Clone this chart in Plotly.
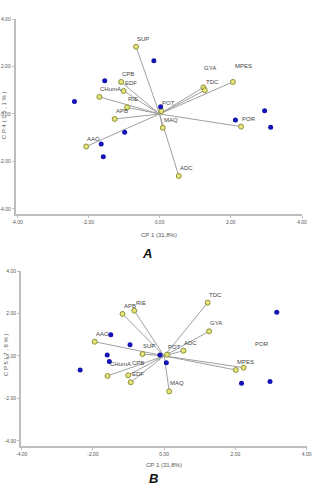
import plotly.graph_objects as go

# ---------------- data ----------------
var_names = ["SUP", "CPB", "EDF", "CHumA", "RIE", "APB", "POT", "MAQ",
             "GYA", "TDC", "MPES", "POR", "AAO", "ADC"]

# Panel A : CP1 vs CP4
a_var_x = [-0.66, -1.08, -1.01, -1.69, -0.91, -1.26, 0.05, 0.09,
           1.23, 1.27, 2.06, 2.29, -2.06, 0.54]
a_var_y = [2.83, 1.35, 0.97, 0.72, 0.28, -0.21, 0.12, -0.58,
           1.12, 1.00, 1.35, -0.53, -1.37, -2.61]
a_obs_x = [-0.16, -1.54, -2.39, 0.03, 2.13, 2.95, 3.12, -1.64, -1.58, -0.98]
a_obs_y = [2.24, 1.40, 0.53, 0.31, -0.25, 0.14, -0.56, -1.26, -1.80, -0.77]

# Panel B : CP1 vs CP5
b_var_x = [-0.61, -1.01, -0.94, -1.59, -0.84, -1.17, 0.08, 0.14,
           1.26, 1.22, 2.01, 2.23, -1.95, 0.54]
b_var_y = [0.09, -0.91, -1.24, -0.94, 2.13, 1.98, 0.06, -1.67,
           1.16, 2.51, -0.66, -0.55, 0.67, 0.25]
b_obs_x = [3.16, -1.50, -0.96, -0.12, -1.60, -1.54, -2.36, 0.06, 2.17, 2.97]
b_obs_y = [2.06, 1.00, 0.53, 0.05, 0.05, -0.26, -0.66, -0.32, -1.28, -1.20]

tick_vals = [-4, -2, 0, 2, 4]
tick_text = ["-4.00", "-2.00", "0.00", "2.00", "4.00"]
x_title = "CP 1 (31,8%)"
a_y_title = "C P 4 ( 1 5 , 1 % )"
b_y_title = "C P 5 ( 7 , 8 % )"

# ---------------- styling ----------------
FONT = "Liberation Sans Narrow, Arial Narrow, Liberation Sans, Arial, sans-serif"
LINE_C = "#a0a0a0"
VAR_FILL = "#e4e47a"
VAR_EDGE = "#8f8f3a"
OBS_C = "#1414b4"
AXIS_C = "#bdbdbd"
TXT_C = "#444444"

# special label shifts (pixels) for crowded labels
a_shift = {"GYA": (0, 15), "MPES": (1, 12)}
b_shift = {"POR": (10, 20), "CHumA": (1, 8), "CPB": (3, 8), "RIE": (1, 4)}

fig = go.Figure()


def add_panel(vx, vy, ox, oy, xa, ya, shifts):
    xref = "x" if xa == 1 else f"x{xa}"
    yref = "y" if ya == 1 else f"y{ya}"
    for i, n in enumerate(var_names):
        fig.add_trace(go.Scatter(x=[0, vx[i]], y=[0, vy[i]], mode="lines",
                                 line=dict(color=LINE_C, width=1),
                                 xaxis=xref, yaxis=yref, showlegend=False,
                                 hoverinfo="skip"))
    fig.add_trace(go.Scatter(x=vx, y=vy, mode="markers",
                             marker=dict(color=VAR_FILL, size=5,
                                         line=dict(color=VAR_EDGE, width=1)),
                             xaxis=xref, yaxis=yref, showlegend=False))
    fig.add_trace(go.Scatter(x=ox, y=oy, mode="markers",
                             marker=dict(color=OBS_C, size=5, symbol="circle"),
                             xaxis=xref, yaxis=yref, showlegend=False))
    for i, n in enumerate(var_names):
        dx, dy = shifts.get(n, (0, 4))
        fig.add_annotation(x=vx[i], y=vy[i], xref=xref, yref=yref, text=n,
                           showarrow=False, xanchor="left", yanchor="bottom",
                           xshift=dx, yshift=dy, borderpad=0,
                           font=dict(family=FONT, size=6, color=TXT_C))


add_panel(a_var_x, a_var_y, a_obs_x, a_obs_y, 1, 1, a_shift)
add_panel(b_var_x, b_var_y, b_obs_x, b_obs_y, 2, 2, b_shift)

W, H = 320, 493


def px2x(px):
    return px / W


def px2y(py):
    return 1 - py / H


axis_common = dict(showgrid=False, zeroline=False, showline=True,
                   linecolor=AXIS_C, linewidth=2, ticks="outside",
                   ticklen=2, tickcolor=AXIS_C, tickwidth=1,
                   tickvals=tick_vals, ticktext=tick_text,
                   tickfont=dict(family=FONT, size=5, color="#555555"),
                   automargin=False, fixedrange=True)

fig.update_layout(
    width=W, height=H,
    margin=dict(l=0, r=0, t=0, b=0),
    paper_bgcolor="white", plot_bgcolor="white",
    xaxis=dict(domain=[px2x(15.7), px2x(302)], range=[-4.04, 4.0],
               anchor="y", **axis_common),
    yaxis=dict(domain=[px2y(213.5), px2y(19)], range=[-4.19, 4.0],
               anchor="x", **axis_common),
    xaxis2=dict(domain=[px2x(21), px2x(306.7)], range=[-4.02, 4.0],
                anchor="y2", **axis_common),
    yaxis2=dict(domain=[px2y(446), px2y(271)], range=[-4.24, 4.0],
                anchor="x2", **axis_common),
)

# axis titles & panel letters
for (tx, ty, txt, ang) in [
    (159, 235, x_title, 0),
    (164, 465, x_title, 0),
    (4, 115, a_y_title, -90),
    (6, 355, b_y_title, -90),
]:
    fig.add_annotation(x=px2x(tx), y=px2y(ty), xref="paper", yref="paper",
                       text=txt, showarrow=False, textangle=ang,
                       xanchor="center", yanchor="middle",
                       font=dict(family=FONT, size=6, color="#555555"))

for (tx, ty, txt) in [(147, 254, "<b><i>A</i></b>"), (153, 478, "<b><i>B</i></b>")]:
    fig.add_annotation(x=px2x(tx), y=px2y(ty), xref="paper", yref="paper",
                       text=txt, showarrow=False, xanchor="center",
                       yanchor="middle",
                       font=dict(family="Liberation Sans, Arial, sans-serif",
                                 size=13, color="#111111"))

fig.write_html(
    "out.html",
    config={"displayModeBar": False},
    post_script="document.body.style.margin='0';document.body.style.padding='0';",
)
